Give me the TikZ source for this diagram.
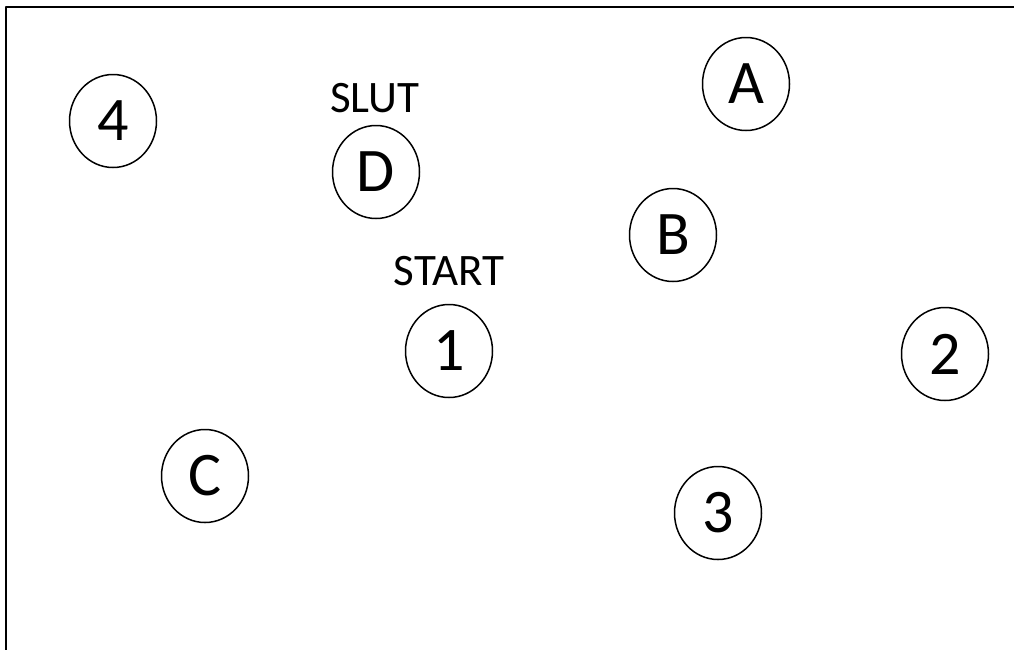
\documentclass[tikz,border=0pt]{standalone}
\usepackage{fontspec}
\setmainfont{Carlito}
\usetikzlibrary{shapes.geometric}
\tikzset{
  stop/.style={draw,ellipse,line width=1.5pt,minimum width=87pt,minimum height=93pt,inner sep=0pt,font=\fontsize{62}{70}\selectfont},
  tag/.style={inner sep=0pt,font=\fontsize{45}{52}\selectfont}
}
\begin{document}
\begin{tikzpicture}[x=1pt,y=-1pt,line join=round]
\useasboundingbox (0,0) rectangle (1014,649);
\clip (0,0) rectangle (1014,649);
\draw[line width=2pt](6,7) rectangle (1030,670);

    \node[stop] (n4) at (113,121) {4};
    \node[stop] (nD) at (376,172) {D};
    \node[stop] (nA) at (746,84) {A};
    \node[stop] (nB) at (673,235) {B};
    \node[stop] (n1) at (449,351) {1};
    \node[stop] (n2) at (945,354) {2};
    \node[stop] (nC) at (205,476) {C};
    \node[stop] (n3) at (718,513) {3};

    \node[tag,anchor=base] (slut) at (375,112) {SLUT};
    \node[tag,anchor=base] (start) at (449,285) {START};
  \end{tikzpicture}
\end{document}
